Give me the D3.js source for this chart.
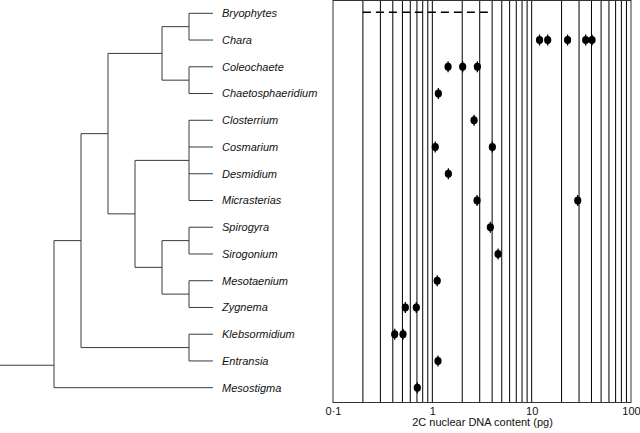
<!DOCTYPE html>
<html>
<head>
<meta charset="utf-8">
<script src="https://cdn.jsdelivr.net/npm/d3@7"></script>
<style>
  html, body { margin: 0; padding: 0; background: #fff; }
  svg { display: block; }
</style>
</head>
<body>
<svg id="chart" width="640" height="433"></svg>
<script>
// ---------------- data ----------------
const species = ["Bryophytes", "Chara", "Coleochaete", "Chaetosphaeridium", "Closterrium",
  "Cosmarium", "Desmidium", "Micrasterias", "Spirogyra", "Sirogonium", "Mesotaenium",
  "Zygnema", "Klebsormidium", "Entransia", "Mesostigma"];

// 2C nuclear DNA content (pg), one list per species, same order as species
const dnaValues = [
  [],
  [12, 14.5, 23, 35, 40.5],
  [1.44, 2.02, 2.84],
  [1.15],
  [2.63],
  [1.07, 4.02],
  [1.45],
  [2.82, 29.1],
  [3.84],
  [4.59],
  [1.12],
  [0.535, 0.69],
  [0.418, 0.507],
  [1.14],
  [0.706]
];

// Bryophyte range (dashed line)
const bryophyteRange = [0.2, 4];

// tree topology (cladogram)
const treeTopology = [
  [
    [
      [["Bryophytes", "Chara"], ["Coleochaete", "Chaetosphaeridium"]],
      [["Closterrium", "Cosmarium", "Desmidium", "Micrasterias"],
       [["Spirogyra", "Sirogonium"], ["Mesotaenium", "Zygnema"]]]
    ],
    ["Klebsormidium", "Entransia"]
  ],
  "Mesostigma"
];
const rootStemRow = 13.16; // row position where the root stem enters

// axis
const tickValues = [0.1, 1, 10, 100];
const tickLabels = ["0·1", "1", "10", "100"];
const axisTitle = "2C nuclear DNA content (pg)";

// ---------------- layout ----------------
const svg = d3.select("#chart");
const font = "'Liberation Sans', Arial, Helvetica, sans-serif";

const plotLeft = 333, plotRight = 631, plotTop = 0.5, plotBottom = 402.5;

const rowY = d3.scaleLinear().domain([0, species.length - 1]).range([13.3, 387.7]);
const x = d3.scaleLog().domain([0.1, 100]).range([plotLeft, plotRight]);

// ---------------- tree ----------------
const hx = d3.scaleLinear().domain([1, 6]).range([189, 54]);
const tipX = 213;
const root = d3.hierarchy(treeTopology, d => Array.isArray(d) ? d : null);

// assign y positions
root.eachAfter(n => {
  if (!n.children) n.y = rowY(species.indexOf(n.data));
  else n.y = (n.children[0].y + n.children[n.children.length - 1].y) / 2;
  n.x = n.children ? hx(n.height) : tipX;
});

const treeG = svg.append("g")
  .attr("fill", "none").attr("stroke", "#3a3a3a").attr("stroke-width", 1);

root.each(n => {
  if (!n.children) return;
  const first = n.children[0], last = n.children[n.children.length - 1];
  treeG.append("line")
    .attr("x1", n.x).attr("x2", n.x).attr("y1", first.y).attr("y2", last.y);
  n.children.forEach(c => {
    treeG.append("line")
      .attr("x1", n.x).attr("x2", c.x).attr("y1", c.y).attr("y2", c.y);
  });
});
// root stem
treeG.append("line")
  .attr("x1", 0).attr("x2", root.x)
  .attr("y1", rowY(rootStemRow)).attr("y2", rowY(rootStemRow));

// leaf labels
svg.append("g").selectAll("text")
  .data(root.leaves())
  .join("text")
  .attr("x", 222)
  .attr("y", d => d.y)
  .attr("dy", "0.35em")
  .attr("font-family", font)
  .attr("font-size", 11)
  .attr("font-style", "italic")
  .attr("fill", "#111")
  .text(d => d.data);

// ---------------- DNA panel ----------------
// grid lines
svg.append("g").selectAll("line")
  .data(x.ticks().filter(v => v > 0.1 && v < 100))
  .join("line")
  .attr("x1", d => x(d)).attr("x2", d => x(d))
  .attr("y1", plotTop).attr("y2", plotBottom)
  .attr("stroke", "#000").attr("stroke-width", 1);

// frame
svg.append("rect")
  .attr("x", plotLeft).attr("y", plotTop)
  .attr("width", plotRight - plotLeft).attr("height", plotBottom - plotTop)
  .attr("fill", "none").attr("stroke", "#333").attr("stroke-width", 1);

// bryophyte dashed range
svg.append("line")
  .attr("x1", x(bryophyteRange[0])).attr("x2", x(bryophyteRange[1]))
  .attr("y1", rowY(0) - 1).attr("y2", rowY(0) - 1)
  .attr("stroke", "#000").attr("stroke-width", 1.6)
  .attr("stroke-dasharray", "8,5");

// points
const pts = [];
species.forEach((s, i) => dnaValues[i].forEach(v => pts.push({ row: i, v })));
const ptG = svg.append("g").selectAll("g").data(pts).join("g")
  .attr("transform", d => `translate(${x(d.v)},${rowY(d.row)})`);
ptG.append("line")
  .attr("x1", 0).attr("x2", 0).attr("y1", -5.5).attr("y2", 5.5)
  .attr("stroke", "#000").attr("stroke-width", 1.3);
ptG.append("ellipse")
  .attr("rx", 3.6).attr("ry", 4).attr("fill", "#000");

// axis
const axis = d3.axisBottom(x)
  .tickValues(tickValues)
  .tickFormat((d, i) => tickLabels[i])
  .tickSize(0).tickPadding(5);
const axG = svg.append("g")
  .attr("transform", `translate(0,${plotBottom})`)
  .call(axis);
axG.select(".domain").remove();
axG.selectAll("text")
  .attr("font-family", font).attr("font-size", 11).attr("fill", "#111");

svg.append("text")
  .attr("x", (plotLeft + plotRight) / 2 + 0.5)
  .attr("y", 426)
  .attr("text-anchor", "middle")
  .attr("font-family", font).attr("font-size", 11).attr("fill", "#111")
  .text(axisTitle);
</script>
</body>
</html>
